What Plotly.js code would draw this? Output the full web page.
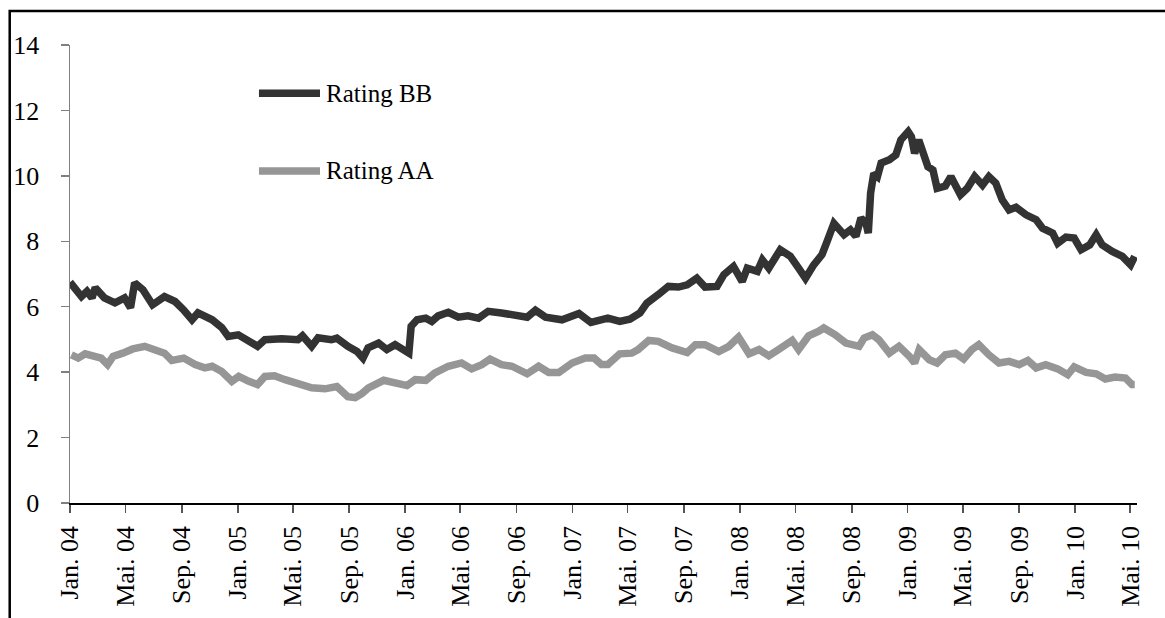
<!DOCTYPE html>
<html>
<head>
<meta charset="utf-8">
<script src="https://cdn.plot.ly/plotly-3.0.1.min.js"></script>
<style>
  html, body { margin: 0; padding: 0; background: #fff; }
  #chart { width: 1165px; height: 618px; }
</style>
</head>
<body>
<div id="chart"></div>
<script>
// ---- Data ----
const bbDates = [
  "2004-01-01","2004-01-26","2004-02-07","2004-02-18","2004-02-25","2004-03-16","2004-04-08","2004-04-29",
  "2004-05-12","2004-05-21","2004-06-08","2004-06-29","2004-07-25","2004-08-17","2004-09-04","2004-09-23",
  "2004-10-06","2004-11-06","2004-11-27","2004-12-11","2005-01-02","2005-01-24","2005-02-13","2005-03-01",
  "2005-04-07","2005-05-12","2005-05-22","2005-06-11","2005-06-25","2005-07-24","2005-08-05","2005-08-29",
  "2005-09-18","2005-10-01","2005-10-12","2005-11-04","2005-11-22","2005-12-10","2005-12-25","2006-01-09",
  "2006-01-14","2006-01-27","2006-02-15","2006-02-28","2006-03-14","2006-04-05","2006-04-27","2006-05-18",
  "2006-06-10","2006-07-01","2006-07-30","2006-08-29","2006-09-24","2006-10-12","2006-11-03","2006-12-09",
  "2007-01-15","2007-02-10","2007-03-05","2007-03-19","2007-04-14","2007-05-06","2007-05-28","2007-06-12",
  "2007-07-07","2007-07-29","2007-08-20","2007-09-08","2007-09-29","2007-10-17","2007-11-12","2007-11-27",
  "2007-12-18","2008-01-06","2008-01-17","2008-02-08","2008-02-19","2008-03-04","2008-03-29","2008-04-20",
  "2008-05-08","2008-05-23","2008-06-10","2008-06-28","2008-07-09","2008-07-24","2008-08-15","2008-08-29",
  "2008-09-10","2008-09-21","2008-10-02","2008-10-07","2008-10-12","2008-10-19","2008-10-27","2008-11-04",
  "2008-11-22","2008-12-06","2008-12-17","2009-01-02","2009-01-09","2009-01-16","2009-01-25","2009-02-04",
  "2009-02-14","2009-02-25","2009-03-06","2009-03-24","2009-04-05","2009-04-26","2009-05-11","2009-05-27",
  "2009-06-13","2009-06-27","2009-07-12","2009-07-26","2009-08-10","2009-08-25","2009-09-16","2009-10-08",
  "2009-10-22","2009-11-13","2009-11-24","2009-12-12","2009-12-30","2010-01-14","2010-02-02","2010-02-16",
  "2010-03-01","2010-03-23","2010-04-14","2010-05-02","2010-05-11"
];
const bbValues = [
  6.75,6.31,6.47,6.27,6.58,6.27,6.12,6.27,
  5.97,6.73,6.52,6.06,6.31,6.16,5.91,5.60,
  5.81,5.60,5.36,5.09,5.14,4.99,4.79,4.99,
  5.02,4.99,5.11,4.79,5.05,4.99,5.04,4.79,
  4.63,4.43,4.74,4.89,4.69,4.84,4.69,4.58,
  5.40,5.60,5.65,5.55,5.72,5.83,5.68,5.72,
  5.65,5.86,5.81,5.76,5.68,5.89,5.68,5.60,
  5.79,5.52,5.58,5.65,5.55,5.62,5.81,6.11,
  6.37,6.62,6.60,6.67,6.87,6.60,6.62,6.98,
  7.23,6.77,7.18,7.08,7.43,7.18,7.74,7.54,
  7.18,6.87,7.28,7.59,7.99,8.55,8.20,8.35,
  8.15,8.71,8.55,8.25,9.47,10.08,9.98,10.39,
  10.49,10.64,11.10,11.35,11.20,10.69,11.10,10.69,
  10.28,10.18,9.62,9.69,9.98,9.42,9.62,9.98,
  9.72,9.98,9.78,9.27,8.96,9.04,8.81,8.66,
  8.40,8.25,7.94,8.13,8.10,7.74,7.89,8.20,
  7.89,7.69,7.54,7.28,7.54
];

const aaDates = [
  "2004-01-04","2004-01-19","2004-02-03","2004-02-25","2004-03-09","2004-03-23","2004-04-04","2004-04-25",
  "2004-05-17","2004-06-12","2004-07-04","2004-07-25","2004-08-10","2004-09-05","2004-09-30","2004-10-21",
  "2004-11-06","2004-11-27","2004-12-19","2005-01-03","2005-01-25","2005-02-13","2005-03-01","2005-03-22",
  "2005-04-14","2005-05-12","2005-06-11","2005-07-10","2005-08-05","2005-08-29","2005-09-14","2005-09-29",
  "2005-10-13","2005-11-15","2005-12-10","2006-01-05","2006-01-23","2006-02-15","2006-03-06","2006-04-05",
  "2006-05-04","2006-05-26","2006-06-17","2006-07-05","2006-07-30","2006-08-22","2006-09-24","2006-10-19",
  "2006-11-10","2006-12-02","2006-12-31","2007-01-29","2007-02-17","2007-03-05","2007-03-19","2007-04-14",
  "2007-05-10","2007-05-24","2007-06-16","2007-07-07","2007-08-06","2007-09-08","2007-09-26","2007-10-17",
  "2007-11-16","2007-12-08","2007-12-29","2008-01-21","2008-02-12","2008-03-04","2008-03-25","2008-04-24",
  "2008-05-08","2008-05-30","2008-06-21","2008-07-02","2008-07-27","2008-08-19","2008-09-17","2008-09-28",
  "2008-10-16","2008-10-30","2008-11-22","2008-12-13","2009-01-05","2009-01-16","2009-01-26","2009-02-17",
  "2009-03-06","2009-03-24","2009-04-15","2009-05-03","2009-05-21","2009-06-05","2009-06-27","2009-07-19",
  "2009-08-10","2009-09-01","2009-09-20","2009-10-08","2009-10-29","2009-11-24","2009-12-16","2009-12-30",
  "2010-01-25","2010-02-16","2010-03-08","2010-03-29","2010-04-21","2010-05-05","2010-05-11"
];
const aaValues = [
  4.53,4.43,4.56,4.48,4.43,4.23,4.48,4.58,
  4.71,4.79,4.66,4.58,4.36,4.43,4.23,4.13,
  4.18,4.02,3.72,3.87,3.72,3.62,3.87,3.89,
  3.77,3.65,3.52,3.49,3.56,3.25,3.22,3.35,
  3.52,3.75,3.67,3.59,3.77,3.75,3.97,4.18,
  4.28,4.10,4.23,4.40,4.23,4.18,3.95,4.18,
  3.99,3.99,4.28,4.43,4.43,4.23,4.23,4.56,
  4.58,4.69,4.97,4.94,4.74,4.60,4.84,4.84,
  4.63,4.79,5.07,4.56,4.69,4.50,4.69,4.97,
  4.69,5.11,5.25,5.35,5.14,4.89,4.79,5.04,
  5.14,4.99,4.58,4.79,4.48,4.28,4.69,4.38,
  4.28,4.53,4.58,4.40,4.69,4.84,4.53,4.28,
  4.33,4.23,4.36,4.13,4.23,4.10,3.92,4.16,
  3.99,3.95,3.79,3.85,3.82,3.62,3.62
];

const seriesNames = ["Rating BB", "Rating AA"];
const tickDates = [
  "2004-01-01","2004-05-01","2004-09-01","2005-01-01","2005-05-01","2005-09-01",
  "2006-01-01","2006-05-01","2006-09-01","2007-01-01","2007-05-01","2007-09-01",
  "2008-01-01","2008-05-01","2008-09-01","2009-01-01","2009-05-01","2009-09-01",
  "2010-01-01","2010-05-01"
];
const tickLabels = [
  "Jan. 04","Mai. 04","Sep. 04","Jan. 05","Mai. 05","Sep. 05",
  "Jan. 06","Mai. 06","Sep. 06","Jan. 07","Mai. 07","Sep. 07",
  "Jan. 08","Mai. 08","Sep. 08","Jan. 09","Mai. 09","Sep. 09",
  "Jan. 10","Mai. 10"
];

// ---- Styles ----
const FONT = "'Liberation Serif', 'Times New Roman', serif";
const colBB = "#333333";
const colAA = "#969696";

const traces = [
  { x: aaDates, y: aaValues, name: seriesNames[1], type: "scatter", mode: "lines",
    line: { color: colAA, width: 7.5 }, showlegend: false, hoverinfo: "x+y" },
  { x: bbDates, y: bbValues, name: seriesNames[0], type: "scatter", mode: "lines",
    line: { color: colBB, width: 7.5 }, showlegend: false, hoverinfo: "x+y" }
];

const layout = {
  width: 1165, height: 618,
  paper_bgcolor: "#fff", plot_bgcolor: "#fff",
  margin: { l: 70, r: 28, t: 45, b: 115 },
  font: { family: FONT, size: 25, color: "#000" },
  showlegend: false,
  xaxis: {
    type: "date",
    range: ["2004-01-01", "2010-05-16"],
    tickmode: "array", tickvals: tickDates, ticktext: tickLabels,
    tickangle: -90,
    showgrid: false, zeroline: false,
    showline: true, linecolor: "#000", linewidth: 1.5,
    ticks: "outside", ticklen: 8, tickcolor: "#555", tickwidth: 1.5,
    ticklabelstandoff: 3,
    tickfont: { family: FONT, size: 26, color: "#000" },
    fixedrange: true
  },
  yaxis: {
    range: [0, 14], dtick: 2, tick0: 0,
    showgrid: false, zeroline: false,
    showline: true, linecolor: "#808080", linewidth: 1.5,
    ticks: "outside", ticklen: 8, tickcolor: "#808080", tickwidth: 1.5,
    ticklabelstandoff: 16,
    tickfont: { family: FONT, size: 26, color: "#000" },
    fixedrange: true
  },
  shapes: [
    // outer frame (left and top edges visible)
    { type: "rect", xref: "paper", yref: "paper",
      x0: -0.0565, x1: 1.04, y0: -0.30, y1: 1.0742,
      line: { color: "#000", width: 2.5 }, fillcolor: "rgba(0,0,0,0)", layer: "below" },
    // legend samples
    { type: "line", xref: "paper", yref: "paper", x0: 0.1771, x1: 0.2343, y0: 0.8946, y1: 0.8946,
      line: { color: colBB, width: 7.5 } },
    { type: "line", xref: "paper", yref: "paper", x0: 0.1771, x1: 0.2343, y0: 0.7251, y1: 0.7251,
      line: { color: colAA, width: 7.5 } }
  ],
  annotations: [
    { xref: "paper", yref: "paper", x: 0.2380, y: 0.8946, xanchor: "left", yanchor: "middle",
      text: seriesNames[0], showarrow: false, font: { family: FONT, size: 25, color: "#000" } },
    { xref: "paper", yref: "paper", x: 0.2380, y: 0.7251, xanchor: "left", yanchor: "middle",
      text: seriesNames[1], showarrow: false, font: { family: FONT, size: 25, color: "#000" } }
  ]
};

Plotly.newPlot("chart", traces, layout, { displayModeBar: false, staticPlot: true });
</script>
</body>
</html>
